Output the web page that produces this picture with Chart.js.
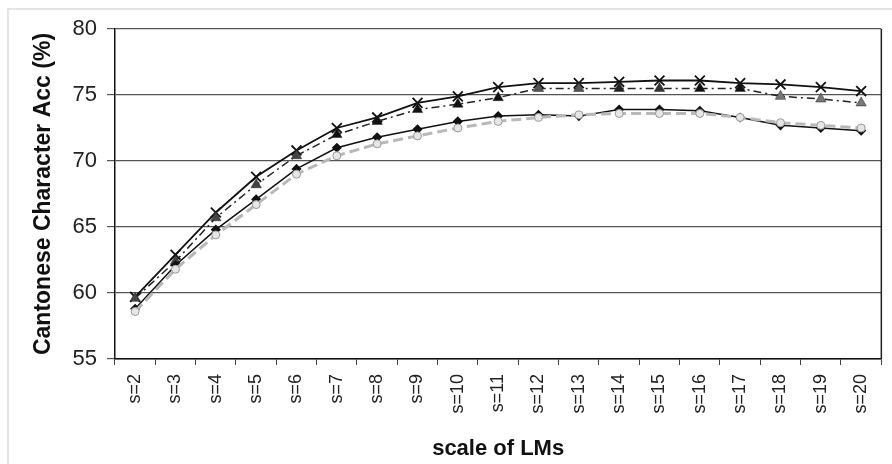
<!DOCTYPE html>
<html>
<head>
<meta charset="utf-8">
<script src="https://cdn.jsdelivr.net/npm/chart.js@4"></script>
<style>
  html, body { margin: 0; padding: 0; background: #fff; }
  #frame {
    position: absolute; left: 7px; top: 8px; width: 900px; height: 460px;
    border-left: 2px solid #e4e4e4; border-top: 2px solid #e4e4e4;
  }
  #wrap { position: absolute; left: 0; top: 0; width: 892px; height: 464px; }
</style>
</head>
<body>
<div id="frame"></div>
<div id="wrap"><canvas id="chart"></canvas></div>
<script>
const categories = ["s=2", "s=3", "s=4", "s=5", "s=6", "s=7", "s=8", "s=9", "s=10", "s=11",
  "s=12", "s=13", "s=14", "s=15", "s=16", "s=17", "s=18", "s=19", "s=20"];

// top curve, crosses, solid line
const seriesX = [59.7, 62.9, 66.1, 68.8, 70.8, 72.5, 73.3, 74.4, 74.9, 75.6,
  75.9, 75.9, 76.0, 76.1, 76.1, 75.9, 75.8, 75.6, 75.3];
// triangles, dash-dot line
const seriesTri = [59.6, 62.4, 65.7, 68.2, 70.4, 72.0, 73.0, 73.9, 74.3, 74.8,
  75.5, 75.5, 75.5, 75.5, 75.5, 75.5, 74.9, 74.7, 74.4];
// black diamonds, solid line
const seriesDia = [58.8, 62.1, 64.8, 67.1, 69.4, 71.0, 71.8, 72.4, 73.0, 73.4,
  73.5, 73.4, 73.9, 73.9, 73.8, 73.3, 72.7, 72.5, 72.3];
// light circles, dashed grey line
const seriesCirc = [58.6, 61.8, 64.4, 66.7, 69.0, 70.4, 71.3, 71.9, 72.5, 73.0,
  73.3, 73.5, 73.6, 73.6, 73.6, 73.3, 72.9, 72.7, 72.5];

const yTicks = [55, 60, 65, 70, 75, 80];

// right border of the plot box
const boxEdge = {
  id: "boxEdge",
  afterDraw(chart) {
    const { ctx, chartArea } = chart;
    ctx.save();
    ctx.strokeStyle = "#222";
    ctx.lineWidth = 1.5;
    ctx.beginPath();
    ctx.moveTo(chartArea.right, chartArea.top);
    ctx.lineTo(chartArea.right, chartArea.bottom);
    ctx.stroke();
    ctx.restore();
  }
};

const FONT = "Liberation Sans, Arial, sans-serif";

new Chart(document.getElementById("chart"), {
  type: "line",
  data: {
    labels: categories,
    datasets: [
      {
        data: seriesCirc,
        borderColor: "#b8b8b8",
        borderWidth: 3,
        borderDash: [10, 5],
        pointStyle: "circle",
        pointRadius: 4,
        pointBackgroundColor: "#e6e6e6",
        pointBorderColor: "#999",
        pointBorderWidth: 1,
        tension: 0
      },
      {
        data: seriesDia,
        borderColor: "#111",
        borderWidth: 1.5,
        pointStyle: "rectRot",
        pointRadius: 4,
        pointBackgroundColor: "#111",
        pointBorderColor: "#111",
        tension: 0
      },
      {
        data: seriesTri,
        borderColor: "#222",
        borderWidth: 1.5,
        borderDash: [8, 4, 2, 4],
        pointStyle: "triangle",
        pointRadius: 6,
        pointBackgroundColor: ["#444", "#444", "#444", "#444", "#444", "#111", "#111", "#111", "#111", "#111",
          "#555", "#555", "#222", "#333", "#111", "#111", "#777", "#777", "#777"],
        pointBorderColor: "#222",
        pointBorderWidth: 0.5,
        tension: 0
      },
      {
        data: seriesX,
        borderColor: "#111",
        borderWidth: 1.8,
        pointStyle: "crossRot",
        pointRadius: 7,
        pointBorderColor: "#111",
        pointBorderWidth: 1.8,
        tension: 0
      }
    ]
  },
  options: {
    responsive: true,
    maintainAspectRatio: false,
    animation: false,
    layout: { padding: { left: 30, right: 9, top: 29, bottom: 2 } },
    plugins: { legend: { display: false }, tooltip: { enabled: false } },
    scales: {
      x: {
        offset: true,
        grid: {
          offset: true,
          drawOnChartArea: false,
          drawTicks: true,
          tickLength: 6,
          color: "#444"
        },
        border: { color: "#111", width: 1.5 },
        ticks: {
          color: "#222",
          maxRotation: 90,
          minRotation: 90,
          padding: 9,
          font: { family: FONT, size: 18 }
        },
        title: {
          display: true,
          text: "scale of LMs",
          color: "#111",
          padding: { top: 12, bottom: 0 },
          font: { family: FONT, size: 22, weight: "bold" }
        },
        afterFit(scale) { scale.height = 103; }
      },
      y: {
        min: 55,
        max: 80,
        afterBuildTicks(scale) { scale.ticks = yTicks.map(v => ({ value: v })); },
        grid: {
          color: "#555",
          lineWidth: 1.2,
          tickLength: 8
        },
        border: { color: "#111", width: 1.5 },
        ticks: {
          color: "#222",
          padding: 10,
          font: { family: FONT, size: 22 }
        },
        title: {
          display: true,
          text: "Cantonese Character Acc (%)",
          color: "#111",
          padding: { top: 0, bottom: 2 },
          font: { family: FONT, size: 23, weight: "bold" }
        },
        afterFit(scale) { scale.width = 85; }
      }
    }
  },
  plugins: [boxEdge]
});
</script>
</body>
</html>
